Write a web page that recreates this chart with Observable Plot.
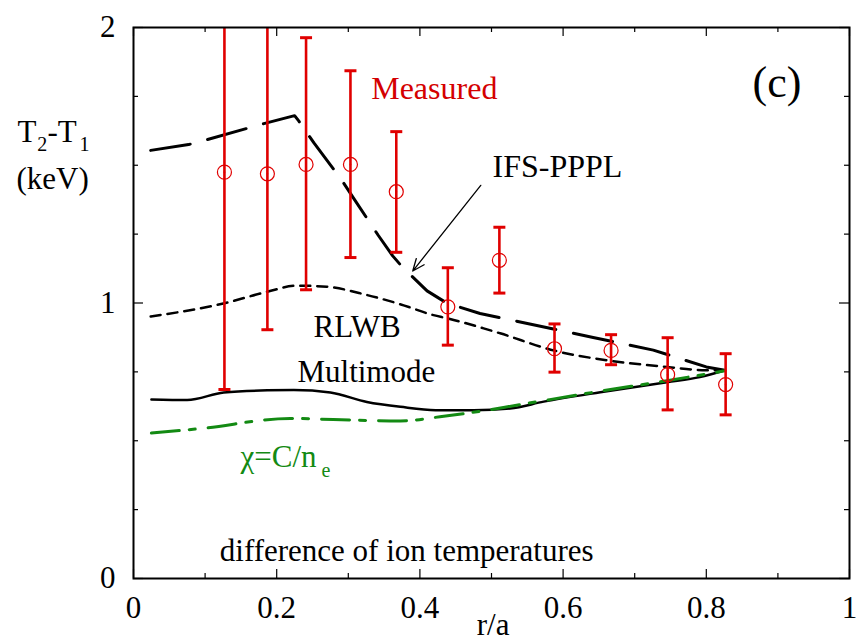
<!DOCTYPE html>
<html>
<head>
<meta charset="utf-8">
<script src="https://cdn.jsdelivr.net/npm/d3@7"></script>
<script src="https://cdn.jsdelivr.net/npm/@observablehq/plot@0.6"></script>
<style>
  html, body { margin: 0; padding: 0; background: #fff; }
  #chart svg, #chart svg text { font-family: 'Liberation Serif', 'Times New Roman', serif !important; }
</style>
</head>
<body>
<div id="chart"></div>
<script>
// ---- data ----
const measX    = [0.127, 0.187, 0.241, 0.303, 0.367, 0.439, 0.511, 0.588, 0.667, 0.746, 0.827];
const measY    = [1.475, 1.469, 1.503, 1.503, 1.404, 0.986, 1.155, 0.834, 0.828, 0.740, 0.704];
const measLow  = [0.686, 0.903, 1.048, 1.165, 1.184, 0.847, 1.036, 0.749, 0.776, 0.612, 0.594];
const measHigh = [2.264, 2.035, 1.963, 1.843, 1.622, 1.128, 1.275, 0.924, 0.885, 0.874, 0.816];

const ifsX = [0.024, 0.077, 0.103, 0.182, 0.225, 0.231, 0.252, 0.289, 0.308, 0.342, 0.362, 0.375, 0.410, 0.438, 0.484, 0.517, 0.642, 0.726, 0.800, 0.826];
const ifsY = [1.554, 1.575, 1.593, 1.651, 1.680, 1.660, 1.581, 1.453, 1.378, 1.245, 1.171, 1.132, 1.044, 0.999, 0.962, 0.944, 0.875, 0.829, 0.768, 0.756];

const rlwbX = [0.024, 0.127, 0.187, 0.228, 0.270, 0.326, 0.372, 0.419, 0.439, 0.489, 0.512, 0.588, 0.667, 0.745, 0.800, 0.826];
const rlwbY = [0.951, 0.999, 1.041, 1.063, 1.059, 1.029, 0.996, 0.956, 0.944, 0.908, 0.890, 0.827, 0.790, 0.768, 0.756, 0.756];

const mmX = [0.025, 0.075, 0.126, 0.187, 0.224, 0.275, 0.326, 0.373, 0.422, 0.475, 0.526, 0.573, 0.652, 0.745, 0.791, 0.826];
const mmY = [0.650, 0.648, 0.675, 0.683, 0.684, 0.675, 0.641, 0.623, 0.611, 0.611, 0.617, 0.642, 0.676, 0.712, 0.731, 0.756];

const chiX = [0.025, 0.093, 0.219, 0.279, 0.373, 0.428, 0.484, 0.535, 0.652, 0.745, 0.826];
const chiY = [0.528, 0.544, 0.581, 0.577, 0.572, 0.587, 0.607, 0.629, 0.680, 0.718, 0.754];

const xTickLabels = [0, 0.2, 0.4, 0.6, 0.8, 1];
const xMinorTicks = [0.1, 0.3, 0.5, 0.7, 0.9];
const yTickLabels = [0, 1, 2];
const yMinorTicks = [0.25, 0.5, 0.75, 1.25, 1.5, 1.75];

// annotation arrow (tail -> head), in data units
const arrowFrom = [0.485, 1.427];
const arrowTo   = [0.390, 1.116];

// ---- build ----
const meas = measX.map((x, i) => ({x, y: measY[i], lo: measLow[i], hi: measHigh[i]}));
const toPts = (xs, ys) => xs.map((x, i) => ({x, y: ys[i]}));
const ifs = toPts(ifsX, ifsY);
const rlwb = toPts(rlwbX, rlwbY);
const mm = toPts(mmX, mmY);
const chi = toPts(chiX, chiY);

const RED = "#e00000";
const GREEN = "#138a13";
const FONT = "'Liberation Serif', 'Times New Roman', serif";

const W = 857, H = 642, ML = 133, MR = 8, MT = 27, MB = 64;
const FW = W - ML - MR, FH = H - MT - MB;

const capSymbol = {
  draw(ctx, size) {
    const r = Math.sqrt(size / Math.PI);
    ctx.moveTo(-r, 0);
    ctx.lineTo(r, 0);
  }
};

const txt = (s, x, y, o = {}) => Plot.text([s], {
  x: () => x, y: () => y, text: d => d, textAnchor: "start", lineAnchor: "bottom",
  fontSize: 31, fontFamily: FONT, fill: "black", clip: false, ...o
});

const chart = Plot.plot({
  width: W, height: H,
  marginLeft: ML, marginRight: MR, marginTop: MT, marginBottom: MB,
  style: {fontFamily: FONT, background: "white", overflow: "visible"},
  x: {domain: [0, 1]},
  y: {domain: [0, 2]},
  marks: [
    Plot.axisX({ticks: xTickLabels, tickSize: 0, tickPadding: 17, fontSize: 31, fontFamily: FONT,
      tickFormat: d => String(+d.toFixed(1)), label: null}),
    Plot.axisY({ticks: yTickLabels, tickSize: 0, tickPadding: 18, fontSize: 31, fontFamily: FONT,
      tickFormat: d => String(d), label: null}),
    Plot.tickX(xTickLabels, {x: d => d, insetTop: FH - 9, stroke: "black", strokeWidth: 1.2}),
    Plot.tickX(xMinorTicks, {x: d => d, insetTop: FH - 5, stroke: "black", strokeWidth: 1.2}),
    Plot.tickX(xTickLabels, {x: d => d, insetBottom: FH - 9, stroke: "black", strokeWidth: 1.2}),
    Plot.tickX(xMinorTicks, {x: d => d, insetBottom: FH - 5, stroke: "black", strokeWidth: 1.2}),
    Plot.tickY(yTickLabels, {y: d => d, insetRight: FW - 10, stroke: "black", strokeWidth: 1.2}),
    Plot.tickY(yMinorTicks, {y: d => d, insetRight: FW - 5, stroke: "black", strokeWidth: 1.2}),
    Plot.tickY(yTickLabels, {y: d => d, insetLeft: FW - 10, stroke: "black", strokeWidth: 1.2}),
    Plot.tickY(yMinorTicks, {y: d => d, insetLeft: FW - 5, stroke: "black", strokeWidth: 1.2}),

    Plot.line(rlwb, {x: "x", y: "y", stroke: "black", strokeWidth: 2.5, strokeDasharray: "10,7", curve: "monotone-x"}),
    Plot.line(ifs, {x: "x", y: "y", stroke: "black", strokeWidth: 3, strokeDasharray: "40,18"}),
    Plot.line(mm, {x: "x", y: "y", stroke: "black", strokeWidth: 2.5, curve: "monotone-x"}),
    Plot.line(chi, {x: "x", y: "y", stroke: GREEN, strokeWidth: 3, strokeDasharray: "28,10,6,13", curve: "monotone-x"}),

    Plot.ruleX(meas, {x: "x", y1: "lo", y2: "hi", stroke: RED, strokeWidth: 2.6, clip: true}),
    Plot.dot(meas, {x: "x", y: "hi", symbol: capSymbol, r: 6, stroke: RED, strokeWidth: 3, fill: "none", clip: true}),
    Plot.dot(meas, {x: "x", y: "lo", symbol: capSymbol, r: 6, stroke: RED, strokeWidth: 3, fill: "none", clip: true}),
    Plot.dot(meas, {x: "x", y: "y", r: 7, stroke: RED, strokeWidth: 1.2, fill: "none"}),
    Plot.dot(meas, {x: "x", y: "y", r: 0.9, fill: RED, stroke: "none"}),

    Plot.arrow([{x1: arrowFrom[0], y1: arrowFrom[1], x2: arrowTo[0], y2: arrowTo[1]}],
      {x1: "x1", y1: "y1", x2: "x2", y2: "y2", stroke: "black", strokeWidth: 1.3, headLength: 15, headAngle: 45, insetEnd: 0}),

    Plot.frame({stroke: "black", strokeWidth: 2}),

    txt("Measured", 0.332, 1.741, {fill: "#d40000", fontSize: 32}),
    txt("(c)", 0.8645, 1.746, {fontSize: 44}),
    txt("IFS-PPPL", 0.5014, 1.4566, {fontSize: 32}),
    txt("RLWB", 0.2514, 0.878),
    txt("Multimode", 0.229, 0.7125),
    txt("\u03c7=C/n", 0.1494, 0.403, {fill: GREEN}),
    txt("e", 0.2626, 0.370, {fill: GREEN, fontSize: 20}),
    txt("difference of ion temperatures", 0.1205, 0.0653),
    txt("T", -0.162, 1.5837),
    txt("2", -0.1345, 1.5535, {fontSize: 20}),
    txt("-T", -0.1201, 1.5837),
    txt("1", -0.0754, 1.5535, {fontSize: 20}),
    txt("(keV)", -0.1634, 1.4156),
    txt("r/a", 0.4794, -0.205)
  ]
});

d3.select(chart).selectAll("text").style("font-family", FONT);
document.getElementById("chart").appendChild(chart);
</script>
</body>
</html>
